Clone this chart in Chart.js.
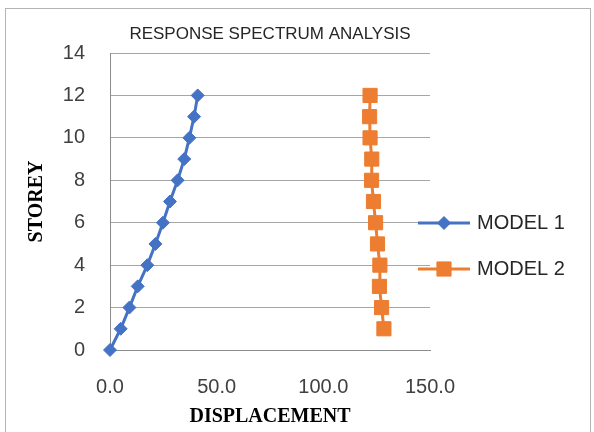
<!DOCTYPE html>
<html>
<head>
<meta charset="utf-8">
<script src="https://cdn.jsdelivr.net/npm/chart.js@4.4.0/dist/chart.umd.min.js"></script>
<style>
  html, body { margin: 0; padding: 0; background: #fff; }
  #wrap { position: relative; width: 594px; height: 432px; overflow: hidden; }
  #frame { position: absolute; left: 5px; top: 8px; width: 586px; height: 440px; border: 1px solid #b4b4b4; box-sizing: border-box; }
  canvas { position: absolute; left: 0; top: 0; }
</style>
</head>
<body>
<div id="wrap">
  <div id="frame"></div>
  <canvas id="spectrumChart" width="594" height="432"></canvas>
</div>
<script>
// storey levels and displacements
const model1Storeys = [0, 1, 2, 3, 4, 5, 6, 7, 8, 9, 10, 11, 12];
const model1Disp = [0, 5.0, 9.1, 13.0, 17.5, 21.3, 24.8, 28.1, 31.7, 34.8, 37.2, 39.4, 41.1];
const model2Storeys = [1, 2, 3, 4, 5, 6, 7, 8, 9, 10, 11, 12];
const model2Disp = [128.4, 127.3, 126.3, 126.5, 125.4, 124.5, 123.5, 122.6, 122.7, 121.9, 121.7, 121.9];
const seriesNames = ['MODEL 1', 'MODEL 2'];
const xRange = [0, 150];
const yRange = [0, 14];

const toPoints = (xs, ys) => xs.map((x, i) => ({ x: x, y: ys[i] }));

// legend drawn Excel style: short line with the marker in the middle
const sideLegend = {
    id: 'sideLegend',
    afterDraw(chart) {
        const ctx = chart.ctx;
        const rows = [223, 269];
        chart.data.datasets.forEach((ds, i) => {
            const y = rows[i];
            ctx.save();
            ctx.strokeStyle = ds.borderColor;
            ctx.lineWidth = ds.borderWidth;
            ctx.beginPath();
            ctx.moveTo(418, y);
            ctx.lineTo(470, y);
            ctx.stroke();
            ctx.fillStyle = ds.backgroundColor;
            ctx.lineWidth = 1;
            Chart.helpers.drawPoint(ctx, {
                pointStyle: ds.pointStyle,
                radius: ds.pointRadius,
                rotation: 0,
                borderWidth: 1
            }, 444, y);
            ctx.fillStyle = '#262626';
            ctx.font = '20px "Liberation Sans", Arial, sans-serif';
            ctx.textBaseline = 'middle';
            ctx.textAlign = 'left';
            ctx.fillText(ds.label, 477, y);
            ctx.restore();
        });
    }
};

const ctx = document.getElementById('spectrumChart').getContext('2d');
const chart = new Chart(ctx, {
    type: 'scatter',
    data: {
        datasets: [{
            label: seriesNames[0],
            data: toPoints(model1Disp, model1Storeys),
            showLine: true,
            clip: false,
            borderColor: '#4472C4',
            backgroundColor: '#4472C4',
            borderWidth: 3,
            pointStyle: 'rectRot',
            pointRadius: 6.5,
            pointBorderWidth: 1,
            tension: 0
        }, {
            label: seriesNames[1],
            data: toPoints(model2Disp, model2Storeys),
            showLine: true,
            clip: false,
            borderColor: '#ED7D31',
            backgroundColor: '#ED7D31',
            borderWidth: 3,
            pointStyle: 'rect',
            pointRadius: 10,
            pointBorderWidth: 1,
            tension: 0
        }]
    },
    options: {
        responsive: false,
        animation: false,
        layout: { padding: { left: 0, right: 164, top: 0, bottom: 0 } },
        plugins: {
            legend: { display: false },
            tooltip: { enabled: false },
            title: {
                display: true,
                text: 'RESPONSE SPECTRUM ANALYSIS',
                fullSize: false,
                color: '#262626',
                font: { family: '"Liberation Sans", Arial, sans-serif', size: 17, weight: 'normal' },
                padding: { top: 24, bottom: 8.6 }
            }
        },
        scales: {
            x: {
                type: 'linear',
                min: xRange[0],
                max: xRange[1],
                afterFit: s => { s.height = 82; },
                grid: { color: 'rgba(0,0,0,0)', drawTicks: false },
                border: { color: '#8c8c8c', width: 1 },
                ticks: {
                    stepSize: 50,
                    padding: 25,
                    color: '#404040',
                    font: { family: '"Liberation Sans", Arial, sans-serif', size: 20 },
                    callback: v => v.toFixed(1)
                },
                title: {
                    display: true,
                    text: 'DISPLACEMENT',
                    color: '#000',
                    font: { family: '"Liberation Serif", "Times New Roman", serif', size: 20, weight: 'bold' },
                    padding: { top: 0, bottom: 3 }
                }
            },
            y: {
                type: 'linear',
                min: yRange[0],
                max: yRange[1],
                afterFit: s => { s.width = 110; },
                grid: { color: '#a6a6a6', drawTicks: false },
                border: { color: '#8c8c8c', width: 1 },
                ticks: {
                    stepSize: 2,
                    padding: 25,
                    color: '#404040',
                    font: { family: '"Liberation Sans", Arial, sans-serif', size: 20 }
                },
                title: {
                    display: true,
                    text: 'STOREY',
                    color: '#000',
                    font: { family: '"Liberation Serif", "Times New Roman", serif', size: 20, weight: 'bold' },
                    padding: { top: 25, bottom: 0 }
                }
            }
        }
    },
    plugins: [sideLegend]
});
</script>
</body>
</html>
